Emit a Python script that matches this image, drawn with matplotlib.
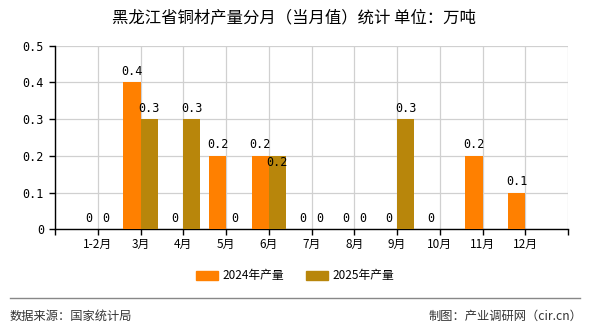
import numpy as np
import matplotlib
matplotlib.use("Agg")
from matplotlib import pyplot as plt
from matplotlib.patches import Patch

plt.rcParams['font.family'] = ['Noto Sans CJK SC', 'DejaVu Sans']

months = ["1-2月", "3月", "4月", "5月", "6月", "7月", "8月", "9月", "10月", "11月", "12月"]
output_2024 = [0, 0.4, 0, 0.2, 0.2, 0, 0, 0, 0, 0.2, 0.1]
output_2025 = [0, 0.3, 0.3, 0, 0.2, 0, 0, 0.3, None, None, None]
series_names = ["2024年产量", "2025年产量"]
colors = ["#FF8000", "#B8860B"]

W, H = 590, 330
fig = plt.figure(figsize=(W / 100, H / 100), dpi=100)
ax = fig.add_axes([55 / W, (H - 229.3) / H, 513 / W, (229.3 - 45.7) / H])

x = np.arange(len(months))
bw = 0.4
a = np.array([np.nan if v is None else v for v in output_2024], dtype=float)
b = np.array([np.nan if v is None else v for v in output_2025], dtype=float)

ax.bar(x - bw / 2, a, bw, color=colors[0], zorder=3)
ax.bar(x + bw / 2, b, bw, color=colors[1], zorder=3)

def fmt(v):
	return "0" if v == 0 else f"{v:g}"

for i in range(len(months)):
	for off, vals, other in ((-bw / 2, a, b), (bw / 2, b, a)):
		v = vals[i]
		if np.isnan(v):
			continue
		y = v + 0.012
		# second series label drops inside the bar when equal to its neighbour
		if off > 0 and v > 0 and v == other[i]:
			y = v - 0.035
		ax.text(x[i] + off, y, fmt(v), ha="center", va="bottom", fontsize=8.5,
			family=["DejaVu Sans Mono"], zorder=4)

ax.set_xlim(-1, len(months))
ax.set_ylim(0, 0.5)
ax.set_xticks(np.arange(-1, len(months) + 1))
ax.set_xticklabels([""] + months + [""], fontsize=8.5)
ax.set_yticks(np.arange(0, 0.51, 0.1))
ax.set_yticklabels(["0", "0.1", "0.2", "0.3", "0.4", "0.5"], fontsize=8.5,
	family=["DejaVu Sans Mono"])
ax.grid(True, color="#d0d0d0", linewidth=0.9, zorder=0)
for s in ("top", "right"):
	ax.spines[s].set_visible(False)
for s in ("left", "bottom"):
	ax.spines[s].set_color("black")
	ax.spines[s].set_linewidth(1)
ax.tick_params(length=4, width=1, color="black", pad=2)
ax.tick_params(axis="y", pad=4)

fig.text(0.5 - 1 / W, 1 - 18 / H, "黑龙江省铜材产量分月（当月值）统计 单位：万吨",
	ha="center", va="center", fontsize=11.8)

handles = [Patch(color=c, label=n) for c, n in zip(colors, series_names)]
fig.legend(handles=handles, loc="center", bbox_to_anchor=(0.5, 1 - 276 / H), ncol=2,
	frameon=False, fontsize=8.5, handlelength=1.9, handleheight=0.75,
	handletextpad=0.4, columnspacing=1.8)

fig.add_artist(plt.Line2D([10 / W, 580 / W], [1 - 298 / H] * 2, color="#888888", linewidth=1))
fig.text(10 / W, 1 - 316 / H, "数据来源：国家统计局", ha="left", va="center", fontsize=8.8, color="#333333")
fig.text(582 / W, 1 - 316 / H, "制图：产业调研网（cir.cn）", ha="right", va="center", fontsize=8.8, color="#333333")

fig.savefig("out.png", dpi=100)
